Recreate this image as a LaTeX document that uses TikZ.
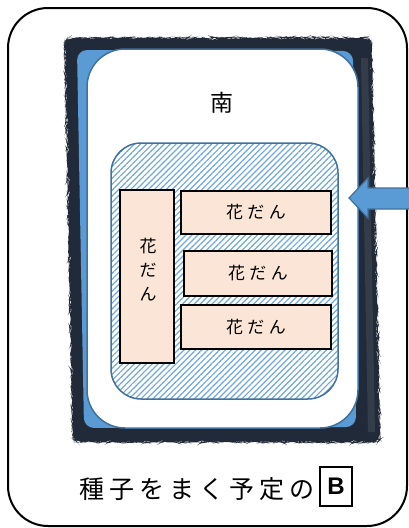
\documentclass[tikz,border=0pt]{standalone}
\usepackage{fontspec}
\newfontfamily\jpfont{Noto Sans CJK JP}
\newfontfamily\jpbed[LetterSpace=26]{Noto Sans CJK JP}
\newfontfamily\jpwide[LetterSpace=20]{Noto Sans CJK JP}
\newfontfamily\latinfont{Liberation Sans}
\usetikzlibrary{positioning,patterns.meta,decorations.pathmorphing}
\definecolor{frameink}{RGB}{33,42,56}
\definecolor{framegrey}{RGB}{52,60,74}
\definecolor{skyblue}{RGB}{91,155,213}
\definecolor{hatchblue}{RGB}{110,168,222}
\definecolor{edgeblue}{RGB}{65,113,156}
\definecolor{bedfill}{RGB}{251,229,214}

\begin{document}
\begin{tikzpicture}[x=1pt,y=-1pt,
  bed/.style={draw=black,line width=2.2pt,fill=bedfill,inner sep=0pt},
  bedtext/.style={font=\jpbed\fontsize{17}{24}\selectfont}]
   \useasboundingbox (0,0) rectangle (409,528);
   % outer frame
   \draw[line width=2pt,rounded corners=40pt] (8,8) rectangle (407,526);
   % planter
   \fill[frameink,rounded corners=6pt,decorate,decoration={random steps,segment length=2pt,amplitude=0.6pt}]
     (65,38) -- (371,38) -- (380,442) -- (73,442) -- cycle;
   \fill[framegrey] (361,58) -- (368,58) -- (375,432) -- (368,432) -- cycle;
   \fill[skyblue,rounded corners=10pt] (77,50) -- (353,51) -- (356,427) -- (84,428) -- cycle;
   \draw[edgeblue,line width=1.5pt,fill=white,rounded corners=38pt] (87,49) rectangle (358,428);
   \node[font=\jpfont\fontsize{23}{23}\selectfont] (south) at (222,103) {南};
   % hatched ground
   \draw[edgeblue,line width=1.5pt,rounded corners=30pt,
     pattern={Lines[angle=45,distance=4.2pt,line width=1.2pt]},pattern color=hatchblue]
     (111,143) rectangle (338,399);
   % flower beds
   \node[bed,minimum width=54pt,minimum height=173pt] (bedv) at (147,276.5) {};
   \node[bedtext,align=center] (bedvtext) at (148,270) {花\\だ\\ん};
   \node[bed,bedtext,minimum width=150pt,minimum height=43pt] (bed1) at (256,212.5) {花だん};
   \node[bed,bedtext,minimum width=148pt,minimum height=45pt] (bed2) at (258,273.5) {花だん};
   \node[bed,bedtext,minimum width=150pt,minimum height=44pt] (bed3) at (256,327) {花だん};
   % arrow from the east
   \draw[edgeblue,line width=1.2pt,fill=skyblue]
     (349,198) -- (368,178) -- (368,188) -- (412,188) -- (412,209) -- (368,209) -- (368,218) -- cycle;
   % caption
   \node[font=\jpwide\fontsize{25}{25}\selectfont,anchor=east] (caption) at (318,489) {種子をまく予定の};
   \node[draw=black,line width=1.5pt,minimum width=32pt,minimum height=39pt,inner sep=0pt,
     font=\latinfont\bfseries\fontsize{24}{24}\selectfont] (boxb) at (336,486.5) {B};
\end{tikzpicture}
\end{document}
